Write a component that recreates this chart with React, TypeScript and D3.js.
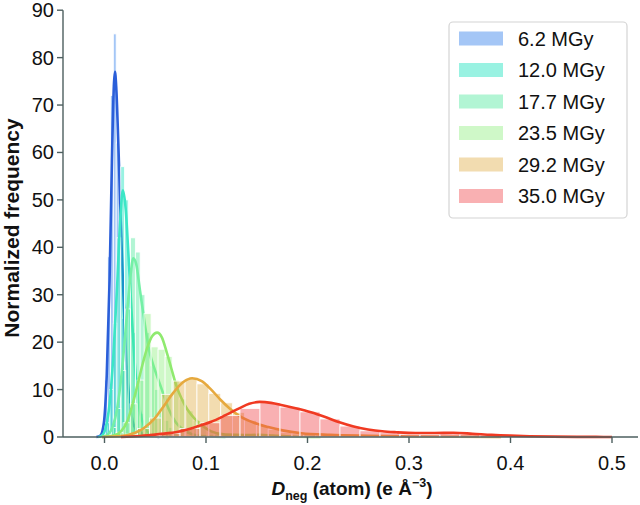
import React from "react";
import * as d3 from "d3";

// ---------- data ----------
const seriesLabels = ["6.2 MGy", "12.0 MGy", "17.7 MGy", "23.5 MGy", "29.2 MGy", "35.0 MGy"];
const curveColors = ["#2b5fd9", "#3ce6c6", "#74f0a6", "#8fea6f", "#e6a93e", "#f03a22"];
const barColors = ["#1b70e8", "#00deb6", "#3ee693", "#87ed75", "#dea739", "#f0393e"];

const xTicks = [0, 0.1, 0.2, 0.3, 0.4, 0.5];
const xTickLabels = ["0.0", "0.1", "0.2", "0.3", "0.4", "0.5"];
const yTicks = [0, 10, 20, 30, 40, 50, 60, 70, 80, 90];

// histogram bins: start, width, heights
const hist62Start = -0.0025;
const hist62Width = 0.0028;
const hist62Values = [2, 12, 38, 72, 85, 62, 42, 25, 14, 7, 4, 2, 1.2, 0.8, 0.4];

const hist120Start = -0.0025;
const hist120Width = 0.0037;
const hist120Values = [0.5, 3, 10, 24, 42, 57, 50, 36, 22, 11, 5, 2, 0.8, 0.3];

const hist177Start = 0.0022;
const hist177Width = 0.0047;
const hist177Values = [0.5, 2, 6, 14, 27, 42, 39, 30, 22, 15, 10, 6, 3.5, 2, 1.2, 0.6, 0.3];

const hist235Start = 0.0045;
const hist235Width = 0.0069;
const hist235Values = [0.3, 1, 3, 7, 12, 26, 19, 18.5, 17, 12, 8, 5.5, 3.5, 2.2, 1.4, 0.9, 0.6, 0.5, 0.4, 0.5, 0.4, 0.3];

const hist292Start = 0.0092;
const hist292Width = 0.0117;
const hist292Values = [0.2, 0.6, 1.8, 4.0, 9.0, 11.8, 12.4, 11.2, 9.2, 7.2, 5.2, 3.5, 2.4, 1.6, 1.0, 0.8, 0.6, 0.4, 0.3, 0.25, 0.2, 0.15, 0.1];

const hist350Start = 0.035;
const hist350Width = 0.0197;
const hist350Values = [0.3, 0.8, 1.8, 3.0, 4.5, 6.0, 7.2, 6.3, 5.3, 3.8, 2.3, 1.3, 0.9, 0.6, 0.55, 0.7, 0.6, 0.4, 0.3, 0.15, 0.1, 0.05, 0.05, 0.03];

// KDE curves: [x, density]
const kde62: [number, number][] = [
  [-0.008, 0], [-0.004, 0.3], [-0.0006, 3], [0.0022, 13], [0.005, 33], [0.0073, 58], [0.0092, 74],
  [0.0103, 77], [0.0115, 74], [0.0139, 60], [0.0162, 44], [0.019, 28], [0.0218, 15], [0.0246, 7.5],
  [0.0275, 3.5], [0.0303, 1.8], [0.0331, 1.2], [0.0359, 0.9], [0.0396, 0.5], [0.0443, 0.2], [0.054, 0],
];
const kde120: [number, number][] = [
  [-0.0062, 0], [-0.0025, 0.3], [0.0012, 2], [0.005, 7], [0.0087, 17], [0.0125, 32], [0.0153, 45],
  [0.0181, 52], [0.0209, 48], [0.0237, 38], [0.0265, 27], [0.0293, 17], [0.0321, 10], [0.0349, 5.5],
  [0.0387, 2.5], [0.0424, 1.1], [0.0471, 0.4], [0.0537, 0.1], [0.063, 0],
];
const kde177: [number, number][] = [
  [-0.0025, 0], [0.0031, 0.5], [0.0078, 2], [0.0125, 6], [0.0172, 14], [0.0218, 25], [0.0256, 34],
  [0.0284, 37.7], [0.0312, 36.5], [0.0349, 31], [0.0396, 24], [0.0443, 18], [0.0499, 14], [0.0565, 10],
  [0.063, 6], [0.0705, 3], [0.078, 1.5], [0.0864, 0.6], [0.1005, 0.15], [0.1192, 0],
];
const kde235: [number, number][] = [
  [-0.0025, 0], [0.0087, 0.3], [0.0162, 1.2], [0.0228, 3.5], [0.0284, 7.5], [0.0331, 11.5], [0.0377, 15.5],
  [0.0424, 19], [0.0471, 21.3], [0.0518, 22], [0.0565, 21], [0.0611, 18], [0.0658, 14.5], [0.0705, 11],
  [0.0761, 8], [0.0817, 5.8], [0.0883, 4], [0.0958, 2.5], [0.1051, 1.2], [0.1192, 0.5], [0.1379, 0.4],
  [0.152, 0.45], [0.166, 0.3], [0.1847, 0.1], [0.2128, 0],
];
const kde292: [number, number][] = [
  [-0.0025, 0], [0.0162, 0.2], [0.0303, 0.9], [0.0396, 2], [0.049, 3.8], [0.0583, 6.5], [0.0677, 9.3],
  [0.077, 11.5], [0.0864, 12.4], [0.0958, 11.8], [0.1051, 10], [0.1145, 7.8], [0.1239, 5.9], [0.1332, 4.4],
  [0.1473, 3], [0.1613, 2.1], [0.1753, 1.4], [0.194, 0.8], [0.2221, 0.45], [0.2596, 0.25], [0.297, 0.12],
  [0.3438, 0.05], [0.3906, 0],
];
const kde350: [number, number][] = [
  [0.0162, 0], [0.0349, 0.2], [0.0537, 0.6], [0.0724, 1.1], [0.0911, 2.2], [0.1051, 3.2], [0.1192, 4.6],
  [0.1332, 6.1], [0.1426, 7], [0.1529, 7.4], [0.1641, 7.2], [0.1753, 6.7], [0.1894, 6], [0.2034, 5.2],
  [0.2175, 4.2], [0.2315, 3.1], [0.2455, 2.2], [0.2596, 1.6], [0.2736, 1.2], [0.2877, 1.0], [0.3064, 0.85],
  [0.3251, 0.85], [0.3438, 0.9], [0.3625, 0.7], [0.3813, 0.45], [0.4, 0.28], [0.4187, 0.17], [0.4421, 0.08],
  [0.4655, 0.03], [0.4842, 0.02], [0.5, 0],
];

const histStarts = [hist62Start, hist120Start, hist177Start, hist235Start, hist292Start, hist350Start];
const histWidths = [hist62Width, hist120Width, hist177Width, hist235Width, hist292Width, hist350Width];
const histValues = [hist62Values, hist120Values, hist177Values, hist235Values, hist292Values, hist350Values];
const kdes = [kde62, kde120, kde177, kde235, kde292, kde350];

// ---------- layout ----------
const W = 640;
const H = 505;
const axisColor = "#4d5f5f";
const font = "'Liberation Sans', Arial, sans-serif";

export default function App() {
  const x = d3.scaleLinear().domain([0, 0.5]).range([104.5, 612]);
  const y = d3.scaleLinear().domain([0, 90]).range([437, 10.2]);
  const line = d3
    .line<[number, number]>()
    .x((d) => x(d[0]))
    .y((d) => y(d[1]))
    .curve(d3.curveMonotoneX);

  const x0 = 63;
  const x1 = 638;
  const yBase = y(0);

  return (
    <svg
      width={W}
      height={H}
      style={{ position: "absolute", left: 0, top: 0, background: "#fff" }}
      fontFamily={font}
    >
      <rect x={0} y={0} width={W} height={H} fill="#fff" />
      {kdes.map((kde, si) => (
        <g key={si}>
          {histValues[si].map((v, bi) => {
            const a = histStarts[si] + bi * histWidths[si];
            const b = a + histWidths[si];
            return (
              <rect
                key={bi}
                x={x(a)}
                y={y(v)}
                width={x(b) - x(a)}
                height={yBase - y(v)}
                fill={barColors[si]}
                fillOpacity={0.4}
                stroke="#fff"
                strokeWidth={0.8}
              />
            );
          })}
          <path d={line(kde) || ""} fill="none" stroke={curveColors[si]} strokeWidth={2.6} strokeLinejoin="round" />
        </g>
      ))}

      {/* axes */}
      <line x1={x0} x2={x1} y1={yBase} y2={yBase} stroke={axisColor} strokeWidth={1.4} />
      <line x1={x0} x2={x0} y1={yBase} y2={y(90)} stroke={axisColor} strokeWidth={1.4} />
      {xTicks.map((t, i) => (
        <g key={t}>
          <line x1={x(t)} x2={x(t)} y1={yBase} y2={yBase + 6} stroke={axisColor} strokeWidth={1.4} />
          <text x={x(t)} y={yBase + 33} textAnchor="middle" fontSize={20} fill="#111">
            {xTickLabels[i]}
          </text>
        </g>
      ))}
      {yTicks.map((t) => (
        <g key={t}>
          <line x1={x0 - 6} x2={x0} y1={y(t)} y2={y(t)} stroke={axisColor} strokeWidth={1.4} />
          <text x={x0 - 9} y={y(t) + 7} textAnchor="end" fontSize={20} fill="#111">
            {t}
          </text>
        </g>
      ))}

      {/* axis titles */}
      <text
        transform={`translate(19,${228}) rotate(-90)`}
        textAnchor="middle"
        fontSize={21}
        fontWeight="bold"
        fill="#111"
      >
        Normalized frequency
      </text>
      <text x={352} y={495} textAnchor="middle" fontSize={19} fontWeight="bold" fill="#111">
        <tspan fontStyle="italic">D</tspan>
        <tspan fontSize={12.5} dy={5}>neg</tspan>
        <tspan dy={-5}> (atom) (e Å</tspan>
        <tspan fontSize={12.5} dy={-8}>−3</tspan>
        <tspan dy={8}>)</tspan>
      </text>

      {/* legend */}
      <rect x={449} y={22} width={178} height={196} rx={4} fill="#fff" fillOpacity={0.85} stroke="#d4d4d4" strokeWidth={1.2} />
      {seriesLabels.map((lab, i) => {
        const cy = 38.5 + i * 31.5;
        return (
          <g key={lab}>
            <rect x={459} y={cy - 7} width={44} height={14} fill={barColors[i]} fillOpacity={0.4} />
            <text x={518} y={cy + 7} fontSize={20} fill="#111">
              {lab}
            </text>
          </g>
        );
      })}
    </svg>
  );
}
